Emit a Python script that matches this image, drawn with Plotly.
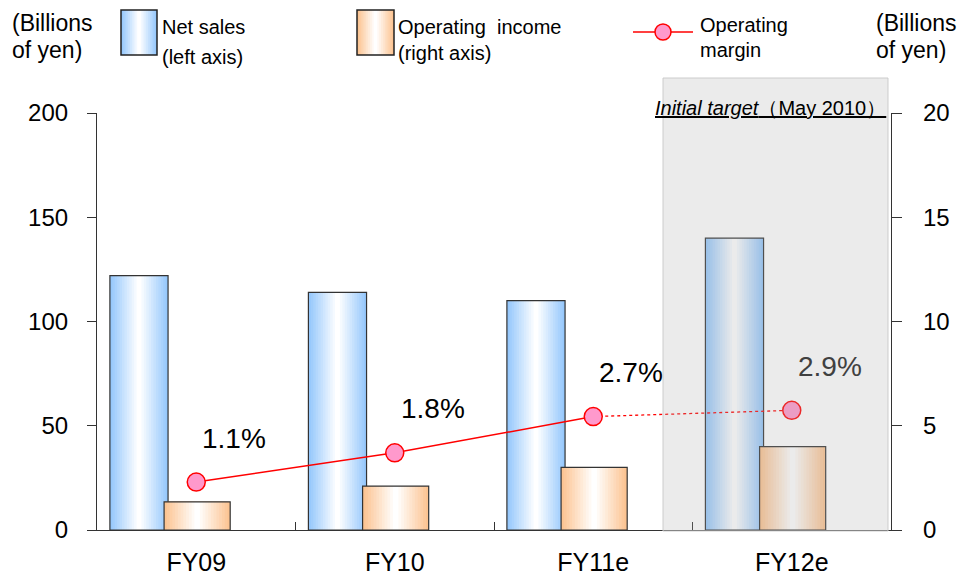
import plotly.graph_objects as go

years = ["FY09", "FY10", "FY11e", "FY12e"]
net_sales = [122, 114, 110, 140]          # left axis
op_income = [1.35, 2.1, 3.0, 4.0]         # right axis
op_margin = [1.15, 1.85, 2.72, 2.87]      # %, hidden axis
margin_labels = ["1.1%", "1.8%", "2.7%", "2.9%"]
left_ticks = [0, 50, 100, 150, 200]
right_ticks = [0, 5, 10, 15, 20]

# page body has an 8px margin, so the figure is drawn 8px in from the corner
PAD = 8
W, H = 969 - PAD, 577 - PAD
L, R, T, B = 97 - PAD, 78, 113 - PAD, 47
FONT = "Liberation Sans, Arial, sans-serif"

BLUE = (150, 200, 252)
ORANGE = (252, 196, 146)
N = 12


def px(x):
    return (x - PAD - L) / (W - L - R)


def py(y):
    return (H - B - (y - PAD)) / (H - T - B)


def mix(c, t):
    return "rgb(%d,%d,%d)" % tuple(round(v + (255 - v) * t) for v in c)


fig = go.Figure()


def gradient_bars(vals, color, offset, width, yaxis):
    for k in range(N):
        w = width * (1 - k / N)
        fig.add_bar(x=years, y=vals, width=w, offset=offset + (width - w) / 2,
                    marker=dict(color=mix(color, k / (N - 1)), line_width=0),
                    yaxis=yaxis, showlegend=False, hoverinfo="skip")
    fig.add_bar(x=years, y=vals, width=width, offset=offset, yaxis=yaxis,
                marker=dict(color="rgba(0,0,0,0)", line=dict(color="#333", width=1.2)),
                showlegend=False)


gradient_bars(net_sales, BLUE, -0.435, 0.293, "y")
gradient_bars(op_income, ORANGE, -0.162, 0.333, "y2")

# operating margin: actual = solid, forecast = dotted
fig.add_scatter(x=years[:3], y=op_margin[:3], mode="lines", yaxis="y3",
                line=dict(color="#ff0000", width=1.5), showlegend=False)
fig.add_scatter(x=years[2:], y=op_margin[2:], mode="lines", yaxis="y3",
                line=dict(color="#ff0000", width=1.3, dash="dot"), showlegend=False)
fig.add_scatter(x=years, y=op_margin, mode="markers", yaxis="y3",
                marker=dict(size=18, color="#ff99cc", line=dict(color="#ff0000", width=1.5)),
                showlegend=False)

ann = []
for i, (yr, m, lab) in enumerate(zip(years, op_margin, margin_labels)):
    ann.append(dict(x=yr, y=m, xref="x", yref="y3", text=lab, showarrow=False,
                    xshift=38, yshift=44,
                    font=dict(size=28, color="#404040" if i == 3 else "black")))


def text(x, y, s, size=20, anchor="left"):
    ann.append(dict(x=px(x), y=py(y), xref="paper", yref="paper", text=s,
                    showarrow=False, xanchor=anchor, yanchor="middle",
                    font=dict(size=size, color="black")))


# axis unit headers
text(10, 23, "(Billions", 23)
text(10, 50, "of yen)", 23)
text(874, 23, "(Billions", 23)
text(874, 50, "of yen)", 23)

# legend texts
text(160, 27, "Net sales", 20)
text(160, 57, "(left axis)", 20)
text(396, 27, "Operating  income", 20)
text(396, 53, "(right axis)", 20)
text(698, 25, "Operating", 20)
text(698, 50, "margin", 20)

text(770, 108, "<i><u>Initial target</u></i><u>（May 2010）</u>", 20, "center")

shapes = []


def grad_rect(x0, x1, y0, y1, color):
    n = 10
    w = (x1 - x0) / 2
    for k in range(n):
        d = w * k / n
        shapes.append(dict(type="rect", xref="paper", yref="paper",
                           x0=px(x0 + d), x1=px(x1 - d), y0=py(y1), y1=py(y0),
                           fillcolor=mix(color, k / (n - 1)), line_width=0))
    shapes.append(dict(type="rect", xref="paper", yref="paper",
                       x0=px(x0), x1=px(x1), y0=py(y1), y1=py(y0),
                       line=dict(color="#222", width=1.5)))


grad_rect(121, 157, 10, 55, BLUE)
grad_rect(357, 394, 10, 55, ORANGE)
shapes.append(dict(type="line", xref="paper", yref="paper",
                   x0=px(633), x1=px(693), y0=py(32), y1=py(32),
                   line=dict(color="#ff0000", width=1.5)))
shapes.append(dict(type="circle", xref="paper", yref="paper",
                   x0=px(655), x1=px(671), y0=py(40), y1=py(24),
                   fillcolor="#ff99cc", line=dict(color="#ff0000", width=1.5)))

# shaded "initial target" panel over FY12e
shapes.append(dict(type="rect", xref="paper", yref="paper", layer="above",
                   x0=px(663), x1=px(888), y0=py(531), y1=py(78),
                   fillcolor="rgba(170,170,170,0.24)",
                   line=dict(color="rgba(200,200,200,0.9)", width=1)))

axis_common = dict(showline=True, linecolor="#333", linewidth=1.2, showgrid=False,
                   zeroline=False, ticks="outside", tickcolor="#333", automargin=False)

fig.update_layout(
    width=W, height=H,
    margin=dict(l=L, r=R, t=T, b=B),
    paper_bgcolor="white", plot_bgcolor="white",
    font=dict(family=FONT, color="black"),
    barmode="overlay",
    showlegend=False,
    xaxis=dict(type="category", range=[-0.5, 3.5], showline=True, linecolor="#333",
               linewidth=1.2, showgrid=False, ticks="inside", tickson="boundaries",
               ticklen=8, tickcolor="#333", tickfont=dict(size=25), ticklabelstandoff=10,
               automargin=False),
    yaxis=dict(range=[0, 200], tickvals=left_ticks, ticklen=9, ticklabelstandoff=14,
               tickfont=dict(size=24), **axis_common),
    yaxis2=dict(range=[0, 20], tickvals=right_ticks, overlaying="y", side="right",
                ticklen=10, ticklabelstandoff=16, tickfont=dict(size=24), **axis_common),
    yaxis3=dict(range=[0, 10], overlaying="y", visible=False),
    annotations=ann,
    shapes=shapes,
)

fig.write_html("out.html")
